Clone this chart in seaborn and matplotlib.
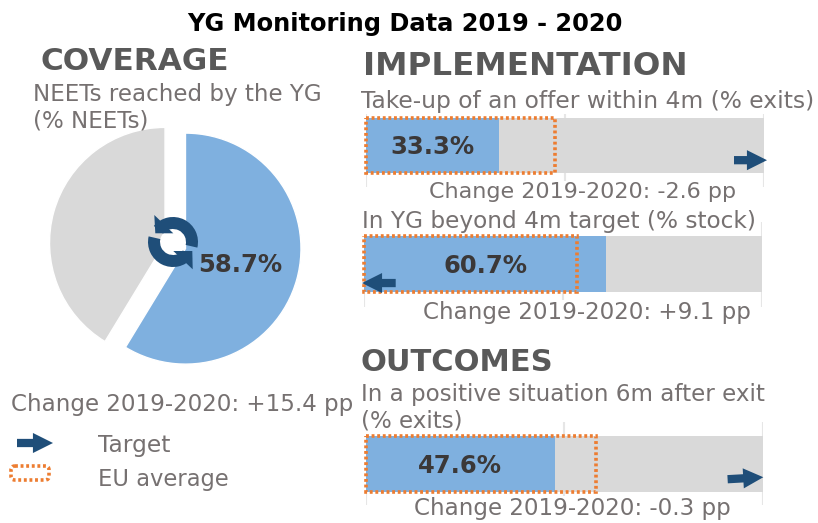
import matplotlib
matplotlib.use("Agg")
import matplotlib.pyplot as plt
import pandas as pd
import seaborn as sns
from matplotlib.patches import Circle, FancyBboxPatch, Polygon, Rectangle, Wedge
from matplotlib.transforms import offset_copy

# data
coverage_labels = ["Reached", "Not reached"]
coverage_values = [58.7, 41.3]
bar_labels = [
    "Take-up of an offer within 4m (% exits)",
    "In YG beyond 4m target (% stock)",
    "In a positive situation 6m after exit\n(% exits)",
]
bar_values = [33.3, 60.7, 47.6]
bar_eu_average = [47.5, 53.5, 58.0]
bar_target = [100, 0, 100]
bar_changes = ["-2.6 pp", "+9.1 pp", "-0.3 pp"]
coverage_change = "+15.4 pp"

BLUE = "#7FB0DF"
GREY = "#D9D9D9"
NAVY = "#1F4E79"
ORANGE = "#ED7D31"
HEAD = "#595959"
SUB = "#767171"
DARK = "#3B3838"
W, H = 818, 523
ARROW = "simple,head_length=0.85,head_width=0.85,tail_width=0.35"
ARROW_SCALE = 17
DOTS = (0, (0.8, 0.75))

sns.set_theme(style="white")
plt.rcParams["font.family"] = ["DejaVu Sans"]

fig = plt.figure(figsize=(W / 100, H / 100), dpi=100)


def add_px_axes(left, right, top, bottom):
    return fig.add_axes([left / W, 1 - bottom / H, (right - left) / W, (bottom - top) / H])


def draw_bar(i, left, right, top, bottom, bar_top, bar_bottom, arrow_y, nudge=0, tilt=0):
    ax = add_px_axes(left, right, top, bottom)
    df = pd.DataFrame({"label": [bar_labels[i]], "total": [100], "value": [bar_values[i]]})
    sns.barplot(data=df, x="total", y="label", color=GREY, saturation=1, width=1, orient="h", lw=0, ax=ax)
    sns.barplot(data=df, x="value", y="label", color=BLUE, saturation=1, width=1, orient="h", lw=0, ax=ax)
    bar_h = bar_bottom - bar_top
    mid = (bar_top + bar_bottom) / 2
    ax.set_xlim(0, 100)
    ax.set_ylim((bottom - mid) / bar_h, (top - mid) / bar_h)
    ax.set_xticks([0, 50, 100])
    ax.set_yticks([])
    ax.set_xticklabels([])
    ax.set_xlabel("")
    ax.set_ylabel("")
    ax.grid(axis="x", color="#E6E6E6", lw=1.5)
    ax.set_axisbelow(True)
    sns.despine(ax=ax, left=True, bottom=True)
    ax.add_patch(Rectangle((0, -0.5), bar_eu_average[i], 1, fill=False, ec=ORANGE,
                           lw=2.6, ls=DOTS, clip_on=False, zorder=5))
    ax.text(bar_values[i] * 0.5, 0.03, f"{bar_values[i]}%", ha="center", va="center",
            fontsize=17.5, fontweight="bold", color=DARK, zorder=6)
    # target arrow, tip on the target value
    sign = -1 if bar_target[i] == 0 else 1
    tip = offset_copy(ax.transData, fig=fig, x=nudge, y=0, units="dots")
    ax.annotate("", xy=(bar_target[i], arrow_y), xytext=(-sign * 36 + nudge, tilt), xycoords=tip,
                textcoords="offset pixels", annotation_clip=False, zorder=7,
                arrowprops=dict(arrowstyle=ARROW, mutation_scale=ARROW_SCALE, color=NAVY,
                                shrinkA=0, shrinkB=0, lw=0))
    return ax


# pie
pie_cx, pie_cy, pie_r = 175.25, 245.75, 115.5
side = pie_r * 2.6
ax_pie = add_px_axes(pie_cx - side / 2, pie_cx + side / 2, pie_cy - side / 2, pie_cy + side / 2)
ax_pie.pie(coverage_values, colors=[BLUE, GREY], startangle=90, counterclock=False,
           explode=[0.092, 0.092], radius=1)
ax_pie.set_xlim(-1.3, 1.3)
ax_pie.set_ylim(-1.3, 1.3)

draw_bar(0, 366, 764, 105, 187, 118, 173.5, 0.26, nudge=3)
draw_bar(1, 364.3, 762.3, 222, 307, 236, 292, 0.34, nudge=-2.3)
draw_bar(2, 365.7, 763, 422, 505, 436, 491.7, 0.24, nudge=0.3, tilt=-2)

# overlay in pixel coordinates for the texts
ov = fig.add_axes([0, 0, 1, 1])
ov.set_xlim(0, W)
ov.set_ylim(H, 0)
ov.axis("off")
ov.patch.set_alpha(0)


def label(x, y, s, size=16.6, color=SUB, weight="normal", ha="left", mask=False):
    box = dict(fc="white", ec="none", pad=0.5) if mask else None
    ov.text(x, y + 1.5, s, fontsize=size, color=color, fontweight=weight, ha=ha, va="center", bbox=box)


label(405, 22, "YG Monitoring Data 2019 - 2020", size=17.35, color="black", weight="bold", ha="center")
label(41, 60, "COVERAGE", size=22.4, color=HEAD, weight="bold")
label(363, 65, "IMPLEMENTATION", size=23.4, color=HEAD, weight="bold")
label(361, 361, "OUTCOMES", size=22, color=HEAD, weight="bold")
label(33, 93, "NEETs reached by the YG")
label(33, 120, "(% NEETs)")
label(361, 100, bar_labels[0], size=16.8, mask=True)
label(362, 220, bar_labels[1], size=16.75, mask=True)
label(361, 393, bar_labels[2].split("\n")[0])
label(361, 420, bar_labels[2].split("\n")[1], mask=True)
label(429, 190, "Change 2019-2020: " + bar_changes[0], size=16, mask=True)
label(423, 311, "Change 2019-2020: " + bar_changes[1], mask=True)
label(414, 507, "Change 2019-2020: " + bar_changes[2], mask=True)
label(11, 403, "Change 2019-2020: " + coverage_change)
label(240, 264, f"{coverage_values[0]}%", size=17.5, color=DARK, weight="bold", ha="center")
label(98, 444, "Target", size=16.8)
label(98, 478, "EU average", size=16.3)

# legend marks
ov.annotate("", xy=(53, 443), xytext=(17, 443),
            arrowprops=dict(arrowstyle=ARROW, mutation_scale=ARROW_SCALE, color=NAVY, shrinkA=0, shrinkB=0, lw=0))
ov.add_patch(FancyBboxPatch((11, 466), 38, 14, boxstyle="round,pad=0,rounding_size=4",
                            fill=False, ec=ORANGE, lw=2.6, ls=DOTS))

# refresh icon in the pie centre, heads on top of the arcs
ic_x, ic_y = 173, 242
ov.add_patch(Circle((ic_x, ic_y), 13, fc="white", ec="none", zorder=3))
ov.add_patch(Wedge((ic_x, ic_y), 25, -140, 13, width=12, fc=NAVY, ec="none", zorder=4))
ov.add_patch(Wedge((ic_x, ic_y), 25, 40, 193, width=12, fc=NAVY, ec="none", zorder=4))
ov.add_patch(Polygon([(ic_x - 18.7, ic_y - 27), (ic_x + 0.3, ic_y - 8.7), (ic_x - 17.7, ic_y - 8.7)],
                     fc=NAVY, ec="none", zorder=5))
ov.add_patch(Polygon([(ic_x + 0.3, ic_y + 9), (ic_x + 19.3, ic_y + 9), (ic_x + 19.7, ic_y + 27.3)],
                     fc=NAVY, ec="none", zorder=5))

fig.savefig("out.png", dpi=100)
